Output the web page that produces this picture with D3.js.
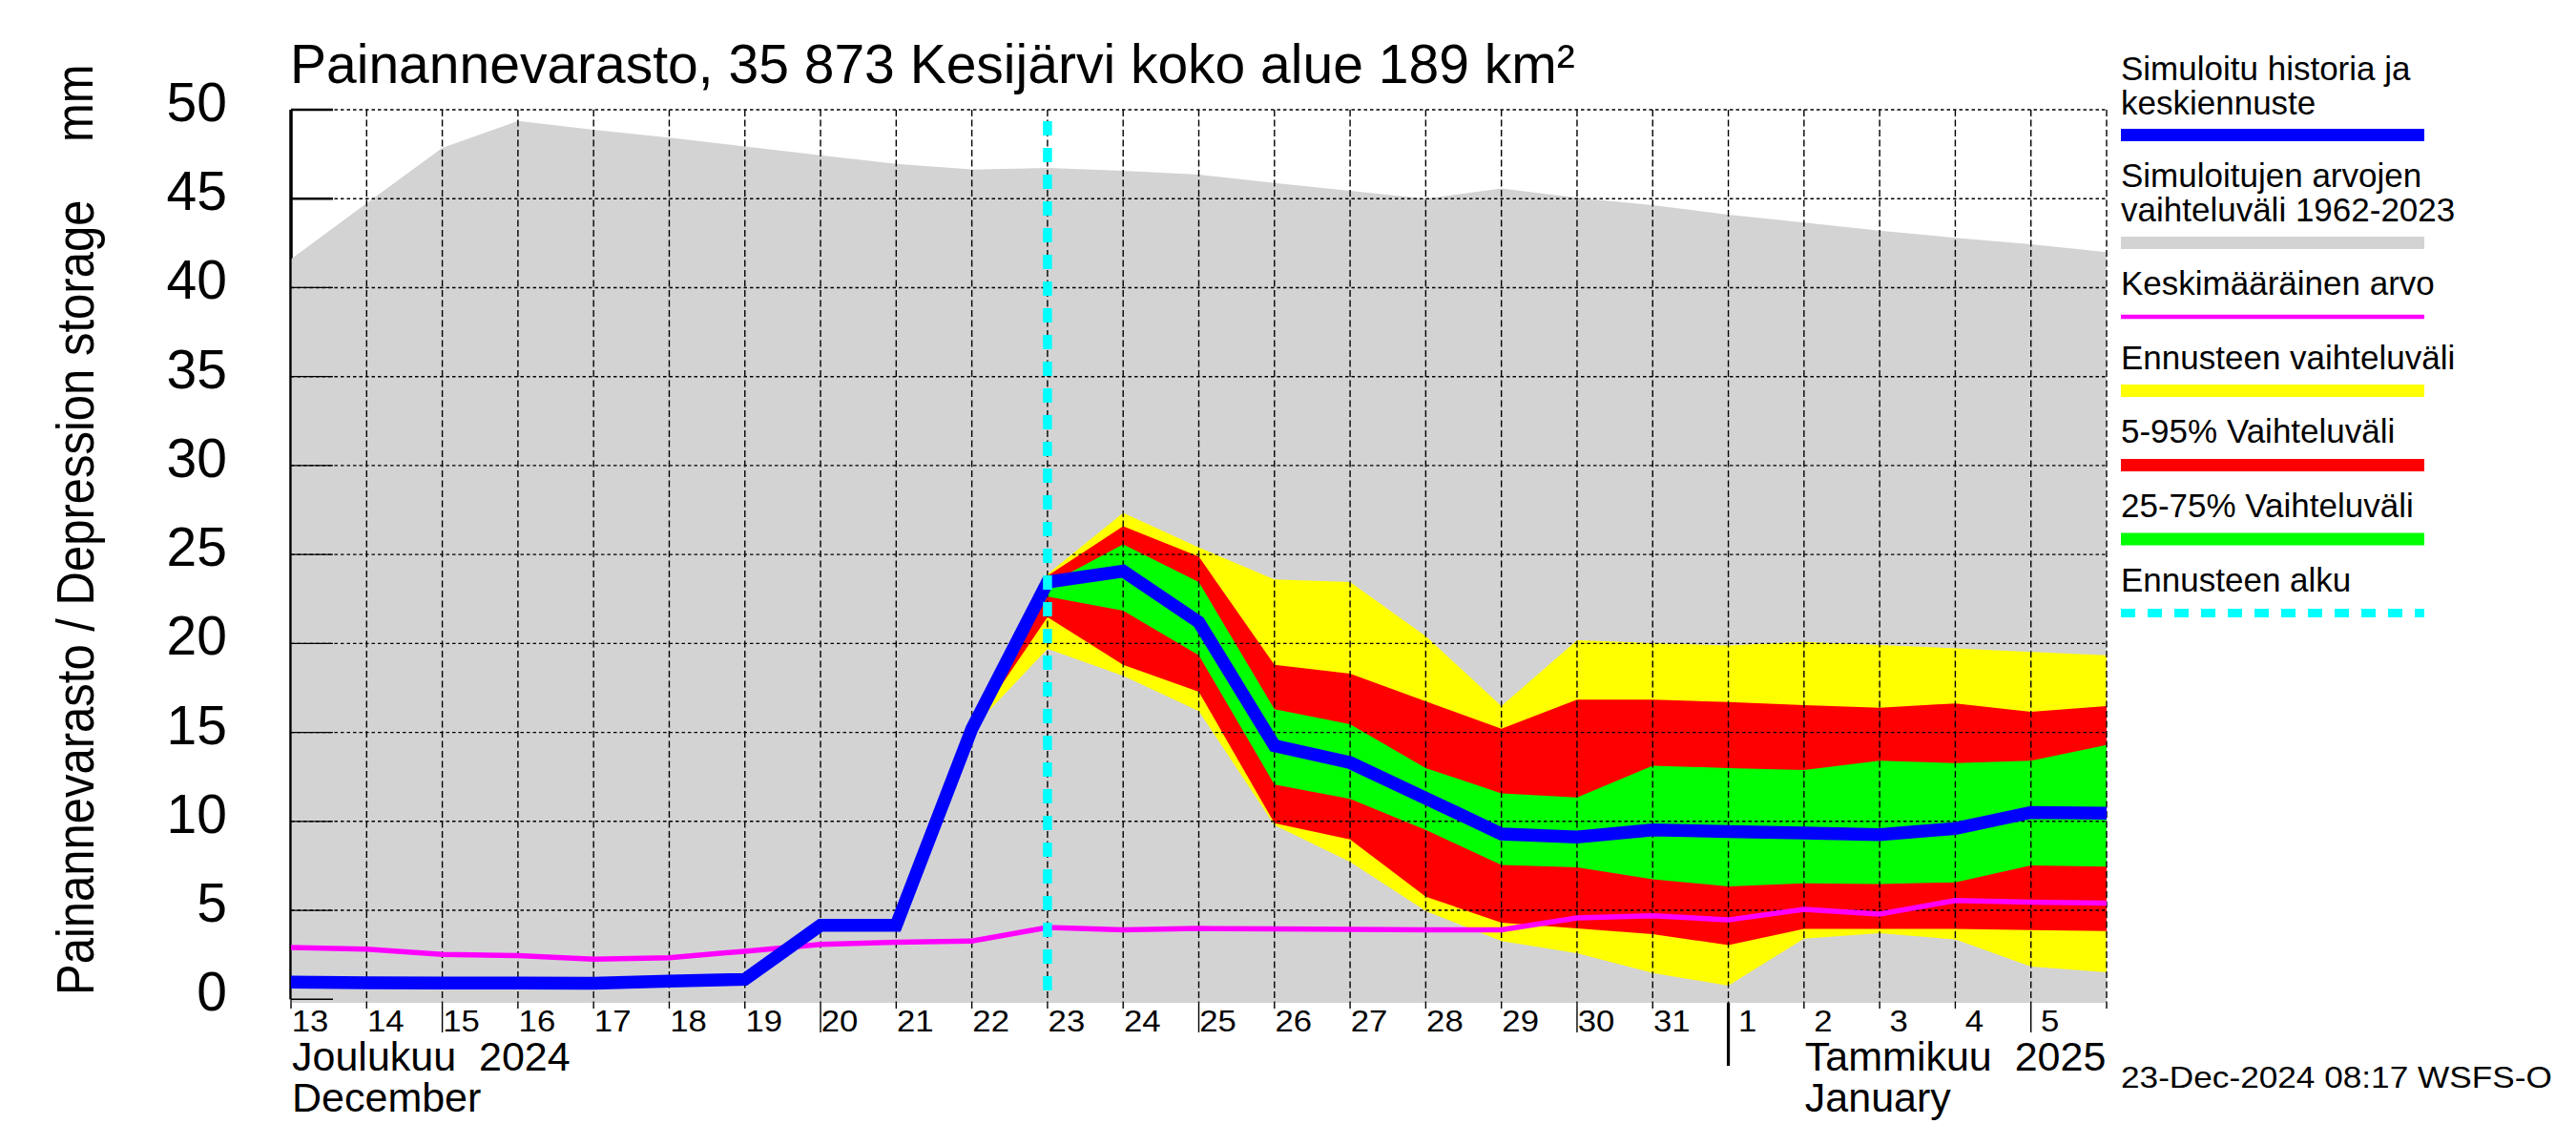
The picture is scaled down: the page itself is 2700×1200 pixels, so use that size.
<!DOCTYPE html>
<html><head><meta charset="utf-8">
<script src="https://cdn.jsdelivr.net/npm/d3@7"></script>
<style>
html,body{margin:0;padding:0;background:#fff}
svg{display:block}
text{font-family:"Liberation Sans",Arial,Helvetica,sans-serif;fill:#000}
</style>
</head><body>
<svg id="c" width="2700" height="1200"></svg>
<script>
// ---------- DATA ----------
const dates = ["2024-12-13","2024-12-14","2024-12-15","2024-12-16","2024-12-17","2024-12-18","2024-12-19",
  "2024-12-20","2024-12-21","2024-12-22","2024-12-23","2024-12-24","2024-12-25","2024-12-26","2024-12-27",
  "2024-12-28","2024-12-29","2024-12-30","2024-12-31","2025-01-01","2025-01-02","2025-01-03","2025-01-04",
  "2025-01-05","2025-01-06"];
// simulated range 1962-2023 (upper edge; lower edge is the axis floor)
const histMax = [41.6,44.75,47.86,49.37,48.87,48.43,47.94,47.44,46.96,46.64,46.73,46.57,46.35,45.89,45.44,
  45.0,45.57,45.05,44.64,44.1,43.66,43.2,42.8,42.44,42.0];
// simulated history + median forecast
const simMedian = [0.96,0.93,0.91,0.91,0.9,1.02,1.12,4.16,4.16,15.2,23.45,24.07,21.2,14.25,13.3,11.3,9.29,
  9.12,9.52,9.43,9.34,9.25,9.6,10.5,10.46];
// mean value
const meanValue = [2.91,2.82,2.52,2.46,2.25,2.34,2.7,3.09,3.21,3.27,4.04,3.9,3.98,3.95,3.93,3.9,3.9,4.57,
  4.7,4.46,5.05,4.79,5.55,5.46,5.41];
// forecast bands, from 2024-12-22
const fcDates = dates.slice(9);
const fcMax = [15.2,23.9,27.34,25.4,23.6,23.45,20.41,16.48,20.18,20.02,19.88,20.09,19.91,19.73,19.52,19.34];
const fcMin = [15.2,19.7,18.18,16.2,9.79,7.73,4.96,3.27,2.59,1.48,0.77,3.41,3.71,3.36,1.84,1.52];
const p95 = [15.2,23.8,26.59,24.88,18.8,18.3,16.75,15.2,16.84,16.84,16.71,16.54,16.39,16.63,16.16,16.48];
const p05 = [15.2,21.48,18.8,17.29,9.9,8.98,5.77,4.3,3.98,3.66,3.05,3.95,3.95,3.95,3.89,3.84];
const p75 = [15.2,23.3,25.57,23.45,16.3,15.46,13.0,11.57,11.34,13.13,13.0,12.88,13.41,13.27,13.41,14.3];
const p25 = [15.2,22.64,21.84,19.34,12.07,11.27,9.52,7.55,7.41,6.75,6.34,6.52,6.48,6.57,7.52,7.46];
const forecastStart = "2024-12-23";
const yTicks = [0,5,10,15,20,25,30,35,40,45,50];
const dayLabels = ["13","14","15","16","17","18","19","20","21","22","23","24","25","26","27","28","29",
  "30","31","1","2","3","4","5"];
const monthLabels = [
  {date:"2024-12-13", lines:["Joulukuu  2024","December"]},
  {date:"2025-01-02", lines:["Tammikuu  2025","January"]}
];
const title = "Painannevarasto, 35 873 Kesijärvi koko alue 189 km²";
const yTitle = "Painannevarasto / Depression storage";
const yUnit = "mm";
const footer = "23-Dec-2024 08:17 WSFS-O";
const legendItems = [
  {lines:["Simuloitu historia ja","keskiennuste"], color:"#0000ff", kind:"bar"},
  {lines:["Simuloitujen arvojen","vaihteluväli 1962-2023"], color:"#d3d3d3", kind:"bar"},
  {lines:["Keskimääräinen arvo"], color:"#ff00ff", kind:"thin"},
  {lines:["Ennusteen vaihteluväli"], color:"#ffff00", kind:"bar"},
  {lines:["5-95% Vaihteluväli"], color:"#ff0000", kind:"bar"},
  {lines:["25-75% Vaihteluväli"], color:"#00ff00", kind:"bar"},
  {lines:["Ennusteen alku"], color:"#00ffff", kind:"dash"}
];

// ---------- LAYOUT ----------
const parse = d3.utcParse("%Y-%m-%d");
const xD = dates.map(parse);
const svg = d3.select("#c");
const L = 305, R = 2208, T = 115, B = 1051;
const x = d3.scaleUtc().domain([xD[0], xD[xD.length-1]]).range([L, R]);
const y = d3.scaleLinear().domain([-0.2, 50]).range([B, T]);
const floor = y.domain()[0];

// axis line and thick ticks (beneath polygons)
svg.append("line").attr("x1",L).attr("x2",L).attr("y1",y(50)).attr("y2",y(0))
  .attr("stroke","#000").attr("stroke-width",3.5);
svg.selectAll(".tk").data(yTicks).enter().append("line")
  .attr("x1",L).attr("x2",L+44).attr("y1",d=>y(d)).attr("y2",d=>y(d))
  .attr("stroke","#000").attr("stroke-width",2.7);

// gray historic range
const hist = xD.map((d,i)=>({d, hi:histMax[i]}));
svg.append("path").datum(hist)
  .attr("d", d3.area().x(p=>x(p.d)).y0(y(floor)).y1(p=>y(p.hi)))
  .attr("fill","#d3d3d3");

// forecast bands
const fcD = fcDates.map(parse);
function band(lo, hi, color){
  const data = fcD.map((d,i)=>({d, lo:lo[i], hi:hi[i]}));
  svg.append("path").datum(data)
    .attr("d", d3.area().x(p=>x(p.d)).y0(p=>y(p.lo)).y1(p=>y(p.hi)))
    .attr("fill", color);
}
band(fcMin, fcMax, "#ffff00");
band(p05, p95, "#ff0000");
band(p25, p75, "#00ff00");

// grid
svg.selectAll(".hg").data(yTicks.filter(t=>t>0)).enter().append("line")
  .attr("x1",L).attr("x2",R).attr("y1",d=>y(d)).attr("y2",d=>y(d))
  .attr("stroke","#000").attr("stroke-width",1.4).attr("stroke-dasharray","3.5 3");
svg.selectAll(".vg").data(xD.slice(1)).enter().append("line")
  .attr("x1",d=>x(d)).attr("x2",d=>x(d)).attr("y1",y(50)).attr("y2",B)
  .attr("stroke","#000").attr("stroke-width",1.4).attr("stroke-dasharray","7 3.5");
svg.append("line").attr("x1",L).attr("x2",L).attr("y1",y(50)).attr("y2",B)
  .attr("stroke","#000").attr("stroke-width",1.3);
svg.selectAll(".tk2").data(yTicks).enter().append("line")
  .attr("x1",L).attr("x2",L+44).attr("y1",d=>y(d)).attr("y2",d=>y(d))
  .attr("stroke","#000").attr("stroke-width",1.3);

// lines
const line = d3.line().x(p=>x(p.d)).y(p=>y(p.v));
svg.append("path").datum(xD.map((d,i)=>({d, v:meanValue[i]})))
  .attr("d", line).attr("fill","none").attr("stroke","#ff00ff").attr("stroke-width",5.5);
svg.append("path").datum(xD.map((d,i)=>({d, v:simMedian[i]})))
  .attr("d", line).attr("fill","none").attr("stroke","#0000ff").attr("stroke-width",13.5)
  .attr("stroke-linejoin","miter");

// forecast start
const fx = x(parse(forecastStart));
svg.append("line").attr("x1",fx).attr("x2",fx).attr("y1",y(50)).attr("y2",y(0))
  .attr("stroke","#00ffff").attr("stroke-width",9.5).attr("stroke-dasharray","15 13")
  .attr("stroke-dashoffset",16);

// bottom ticks
xD.forEach((d,i)=>{
  const isMonth = d.getUTCDate()===1;
  const isFive = d.getUTCDate()%5===0;
  const len = isMonth ? 66 : (isFive ? 31 : 6);
  svg.append("line").attr("x1",x(d)).attr("x2",x(d)).attr("y1",B).attr("y2",B+len)
    .attr("stroke","#000").attr("stroke-width",isMonth?3.2:1.4);
});

// y tick labels
svg.selectAll(".yl").data(yTicks).enter().append("text")
  .attr("x",238).attr("y",d=>y(d)+12).attr("text-anchor","end")
  .attr("font-size",57).text(d=>d);

// day labels
dayLabels.forEach((lab,i)=>{
  svg.append("text").attr("transform",`translate(${x(xD[i])+20},1081) scale(1.12,1)`)
    .attr("text-anchor","middle").attr("font-size",31).text(lab);
});

// month labels
monthLabels.forEach(m=>{
  const mx = x(parse(m.date))+1;
  m.lines.forEach((s,j)=>{
    svg.append("text").attr("x",mx).attr("y",1122+j*43).attr("font-size",43)
      .attr("xml:space","preserve").style("white-space","pre").text(s);
  });
});

// title
svg.append("text").attr("x",304).attr("y",87).attr("font-size",57).text(title);

// y title
svg.append("text").attr("transform","translate(98,1043) scale(1.12,1) rotate(-90)")
  .attr("font-size",49).text(yTitle);
svg.append("text").attr("transform","translate(97,149) scale(1.12,1) rotate(-90)")
  .attr("font-size",49).text(yUnit);

// footer
svg.append("text").attr("transform","translate(2223,1140) scale(1.1,1)")
  .attr("font-size",32).text(footer);

// legend
const LX = 2223, LW = 318;
const legTextY = [[84,120],[196,232],[309],[387],[464],[542],[620]];
const legSymY = [141.5,254.5,332,409.5,487.5,565,642.5];
legendItems.forEach((it,i)=>{
  it.lines.forEach((s,j)=>{
    svg.append("text").attr("x",LX).attr("y",legTextY[i][j]).attr("font-size",35).text(s);
  });
  const ln = svg.append("line").attr("x1",LX).attr("x2",LX+LW)
    .attr("y1",legSymY[i]).attr("y2",legSymY[i]).attr("stroke",it.color);
  if(it.kind==="bar") ln.attr("stroke-width",13);
  else if(it.kind==="thin") ln.attr("stroke-width",4.5);
  else ln.attr("stroke-width",9).attr("stroke-dasharray","15 13");
});
</script>
</body></html>
